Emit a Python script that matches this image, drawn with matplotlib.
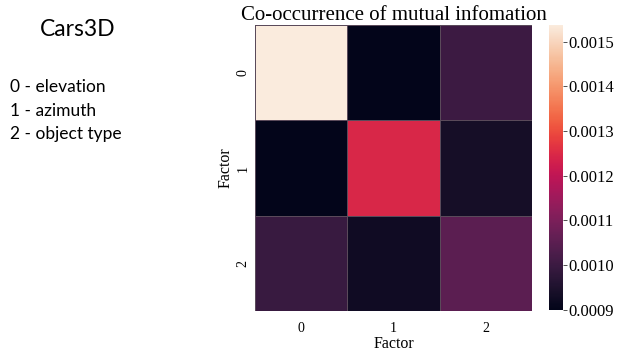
import numpy as np
import matplotlib
matplotlib.use("Agg")
import matplotlib.pyplot as plt
from matplotlib.ticker import FixedLocator, FormatStrFormatter
import seaborn as sns

plt.rcParams['font.family'] = ['Liberation Serif', 'DejaVu Serif']

factors = ["0", "1", "2"]
factor_names = ["elevation", "azimuth", "object type"]
row_0 = [0.001537, 0.000900, 0.001000]
row_1 = [0.000900, 0.001245, 0.000935]
row_2 = [0.000995, 0.000925, 0.001050]
cbar_ticks = [0.0009, 0.0010, 0.0011, 0.0012, 0.0013, 0.0014, 0.0015]

SERIF = ['Liberation Serif', 'DejaVu Serif']


def draw():
    mi = np.array([row_0, row_1, row_2])
    fig = plt.figure(figsize=(6.2, 3.54), dpi=100)
    ax = fig.add_axes([255 / 620, 1 - 311 / 354, 277 / 620, 286 / 354])
    cax = fig.add_axes([549 / 620, 1 - 310 / 354, 14 / 620, 285 / 354])
    sns.heatmap(mi, ax=ax, cbar_ax=cax, cmap="rocket",
                vmin=0.000899, vmax=0.001537,
                linewidths=0.4, linecolor="#5a4a5a",
                xticklabels=factors, yticklabels=factors)
    ax.set_title("Co-occurrence of mutual infomation", fontsize=15, pad=1,
                 family=SERIF)
    ax.set_xlabel("Factor", fontsize=11.5, labelpad=1, family=SERIF)
    ax.set_ylabel("Factor", fontsize=11.5, labelpad=2, family=SERIF)
    ax.tick_params(axis="x", length=0, labelsize=10, pad=8)
    ax.tick_params(axis="y", length=0, labelsize=10, pad=4)
    ax.set_xticklabels(factors, family=SERIF)
    ax.set_yticklabels(factors, rotation=90, va="center", family=SERIF)

    cax.yaxis.set_major_locator(FixedLocator(cbar_ticks))
    cax.yaxis.set_major_formatter(FormatStrFormatter("%.4f"))
    cax.tick_params(labelsize=12, length=3, pad=1, width=0.6, color="#333333")

    # legend text on the left
    fig.text(78 / 620, 1 - 29 / 354, "Cars3D", family="Lato", fontsize=16.5,
             ha="center", va="center")
    for i, (f, name) in enumerate(zip(factors, factor_names)):
        fig.text(10 / 620, 1 - (87 + 23.5 * i) / 354, f"{f} - {name}",
                 family="Lato", fontsize=12.5, ha="left", va="center")
    fig.savefig("out.png", dpi=100)


if __name__ == '__main__':
    draw()
